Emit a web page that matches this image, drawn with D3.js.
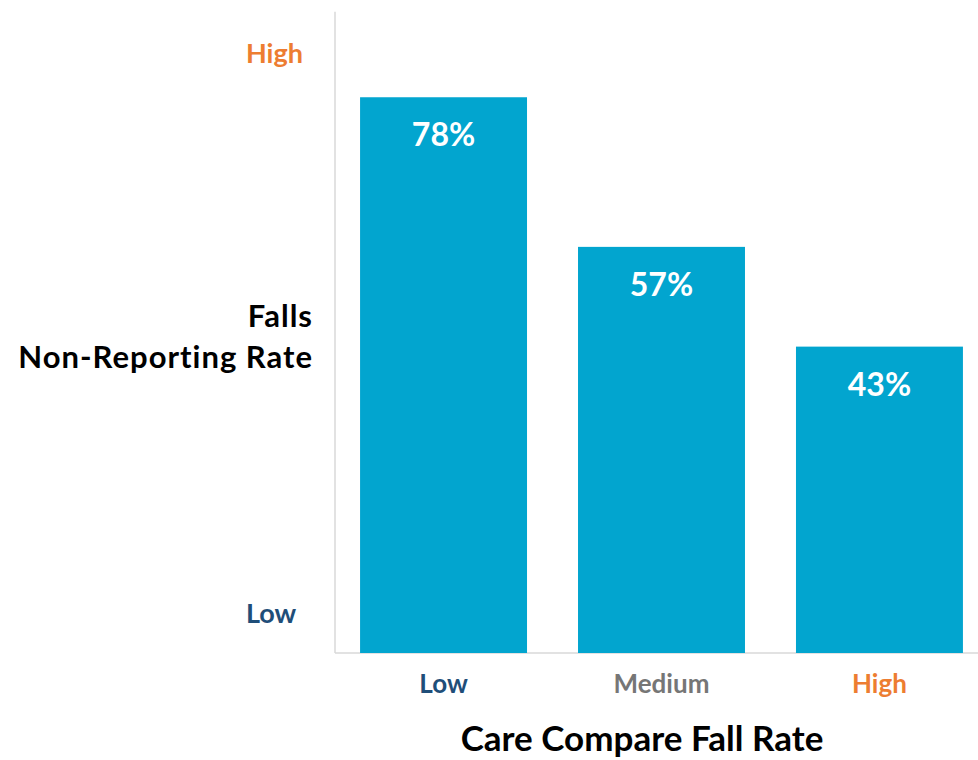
<!DOCTYPE html>
<html>
<head>
<meta charset="utf-8">
<script src="https://cdn.jsdelivr.net/npm/d3@7"></script>
<style>
  body { margin: 0; background: #fff; }
  text { font-family: Lato, "Open Sans", sans-serif; font-weight: bold; }
</style>
</head>
<body>
<svg id="chart" width="978" height="760"></svg>
<script>
'use strict'

// data
const categories = ['Low', 'Medium', 'High']
const rates = [78, 57, 43]
const categoryColors = ['#1F4E79', '#767676', '#ED7D31']
const yTickLabels = ['Low', 'High']
const yTickValues = [5.5, 84.1]
const yTickColors = ['#1F4E79', '#ED7D31']
const yTitle = ['Falls', 'Non-Reporting Rate']
const xTitle = 'Care Compare Fall Rate'

const svg = d3.select('#chart')

const left = 335
const right = 988
const bottom = 653

let scaleX = d3.scaleBand()
  .domain(categories)
  .range([left, right])
  .paddingInner(0.234)
  .paddingOuter(0.115)

let scaleY = d3.scaleLinear()
  .domain([0, 90])
  .range([bottom, bottom - 90 * 7.125])

// axis lines
svg.append('line')
  .attr('x1', left).attr('x2', left)
  .attr('y1', scaleY(90)).attr('y2', bottom)
  .style('stroke', '#d9d9d9').style('stroke-width', 1.5)
svg.append('line')
  .attr('x1', left).attr('x2', right)
  .attr('y1', bottom).attr('y2', bottom)
  .style('stroke', '#d9d9d9').style('stroke-width', 1.5)

// bars
svg.append('g').selectAll('rect')
  .data(rates)
  .join('rect')
  .attr('x', (d, i) => scaleX(categories[i]))
  .attr('y', d => scaleY(d))
  .attr('width', scaleX.bandwidth())
  .attr('height', d => bottom - scaleY(d))
  .style('fill', '#02A5CF')

// value labels
svg.append('g').selectAll('text')
  .data(rates)
  .join('text')
  .attr('x', (d, i) => scaleX(categories[i]) + scaleX.bandwidth() / 2)
  .attr('y', d => scaleY(d) + 49)
  .attr('text-anchor', 'middle')
  .style('font-size', '32px')
  .style('fill', '#fff')
  .text(d => d + '%')

// x tick labels
svg.append('g').selectAll('text')
  .data(categories)
  .join('text')
  .attr('x', d => scaleX(d) + scaleX.bandwidth() / 2)
  .attr('y', 693)
  .attr('text-anchor', 'middle')
  .style('font-size', '26px')
  .style('fill', (d, i) => categoryColors[i])
  .text(d => d)

// y tick labels
svg.append('g').selectAll('text')
  .data(yTickLabels)
  .join('text')
  .attr('x', 246)
  .attr('y', (d, i) => scaleY(yTickValues[i]) + 9)
  .style('font-size', '27px')
  .style('fill', (d, i) => yTickColors[i])
  .text(d => d)

// y title
svg.append('g').selectAll('text')
  .data(yTitle)
  .join('text')
  .attr('x', 313)
  .attr('y', (d, i) => 327 + i * 41)
  .attr('text-anchor', 'end')
  .style('font-size', '31px')
  .style('letter-spacing', '1px')
  .style('fill', '#000')
  .text(d => d)

// x title
svg.append('text')
  .attr('x', 642)
  .attr('y', 751)
  .attr('text-anchor', 'middle')
  .style('font-size', '35px')
  .style('fill', '#000')
  .text(xTitle)
</script>
</body>
</html>
